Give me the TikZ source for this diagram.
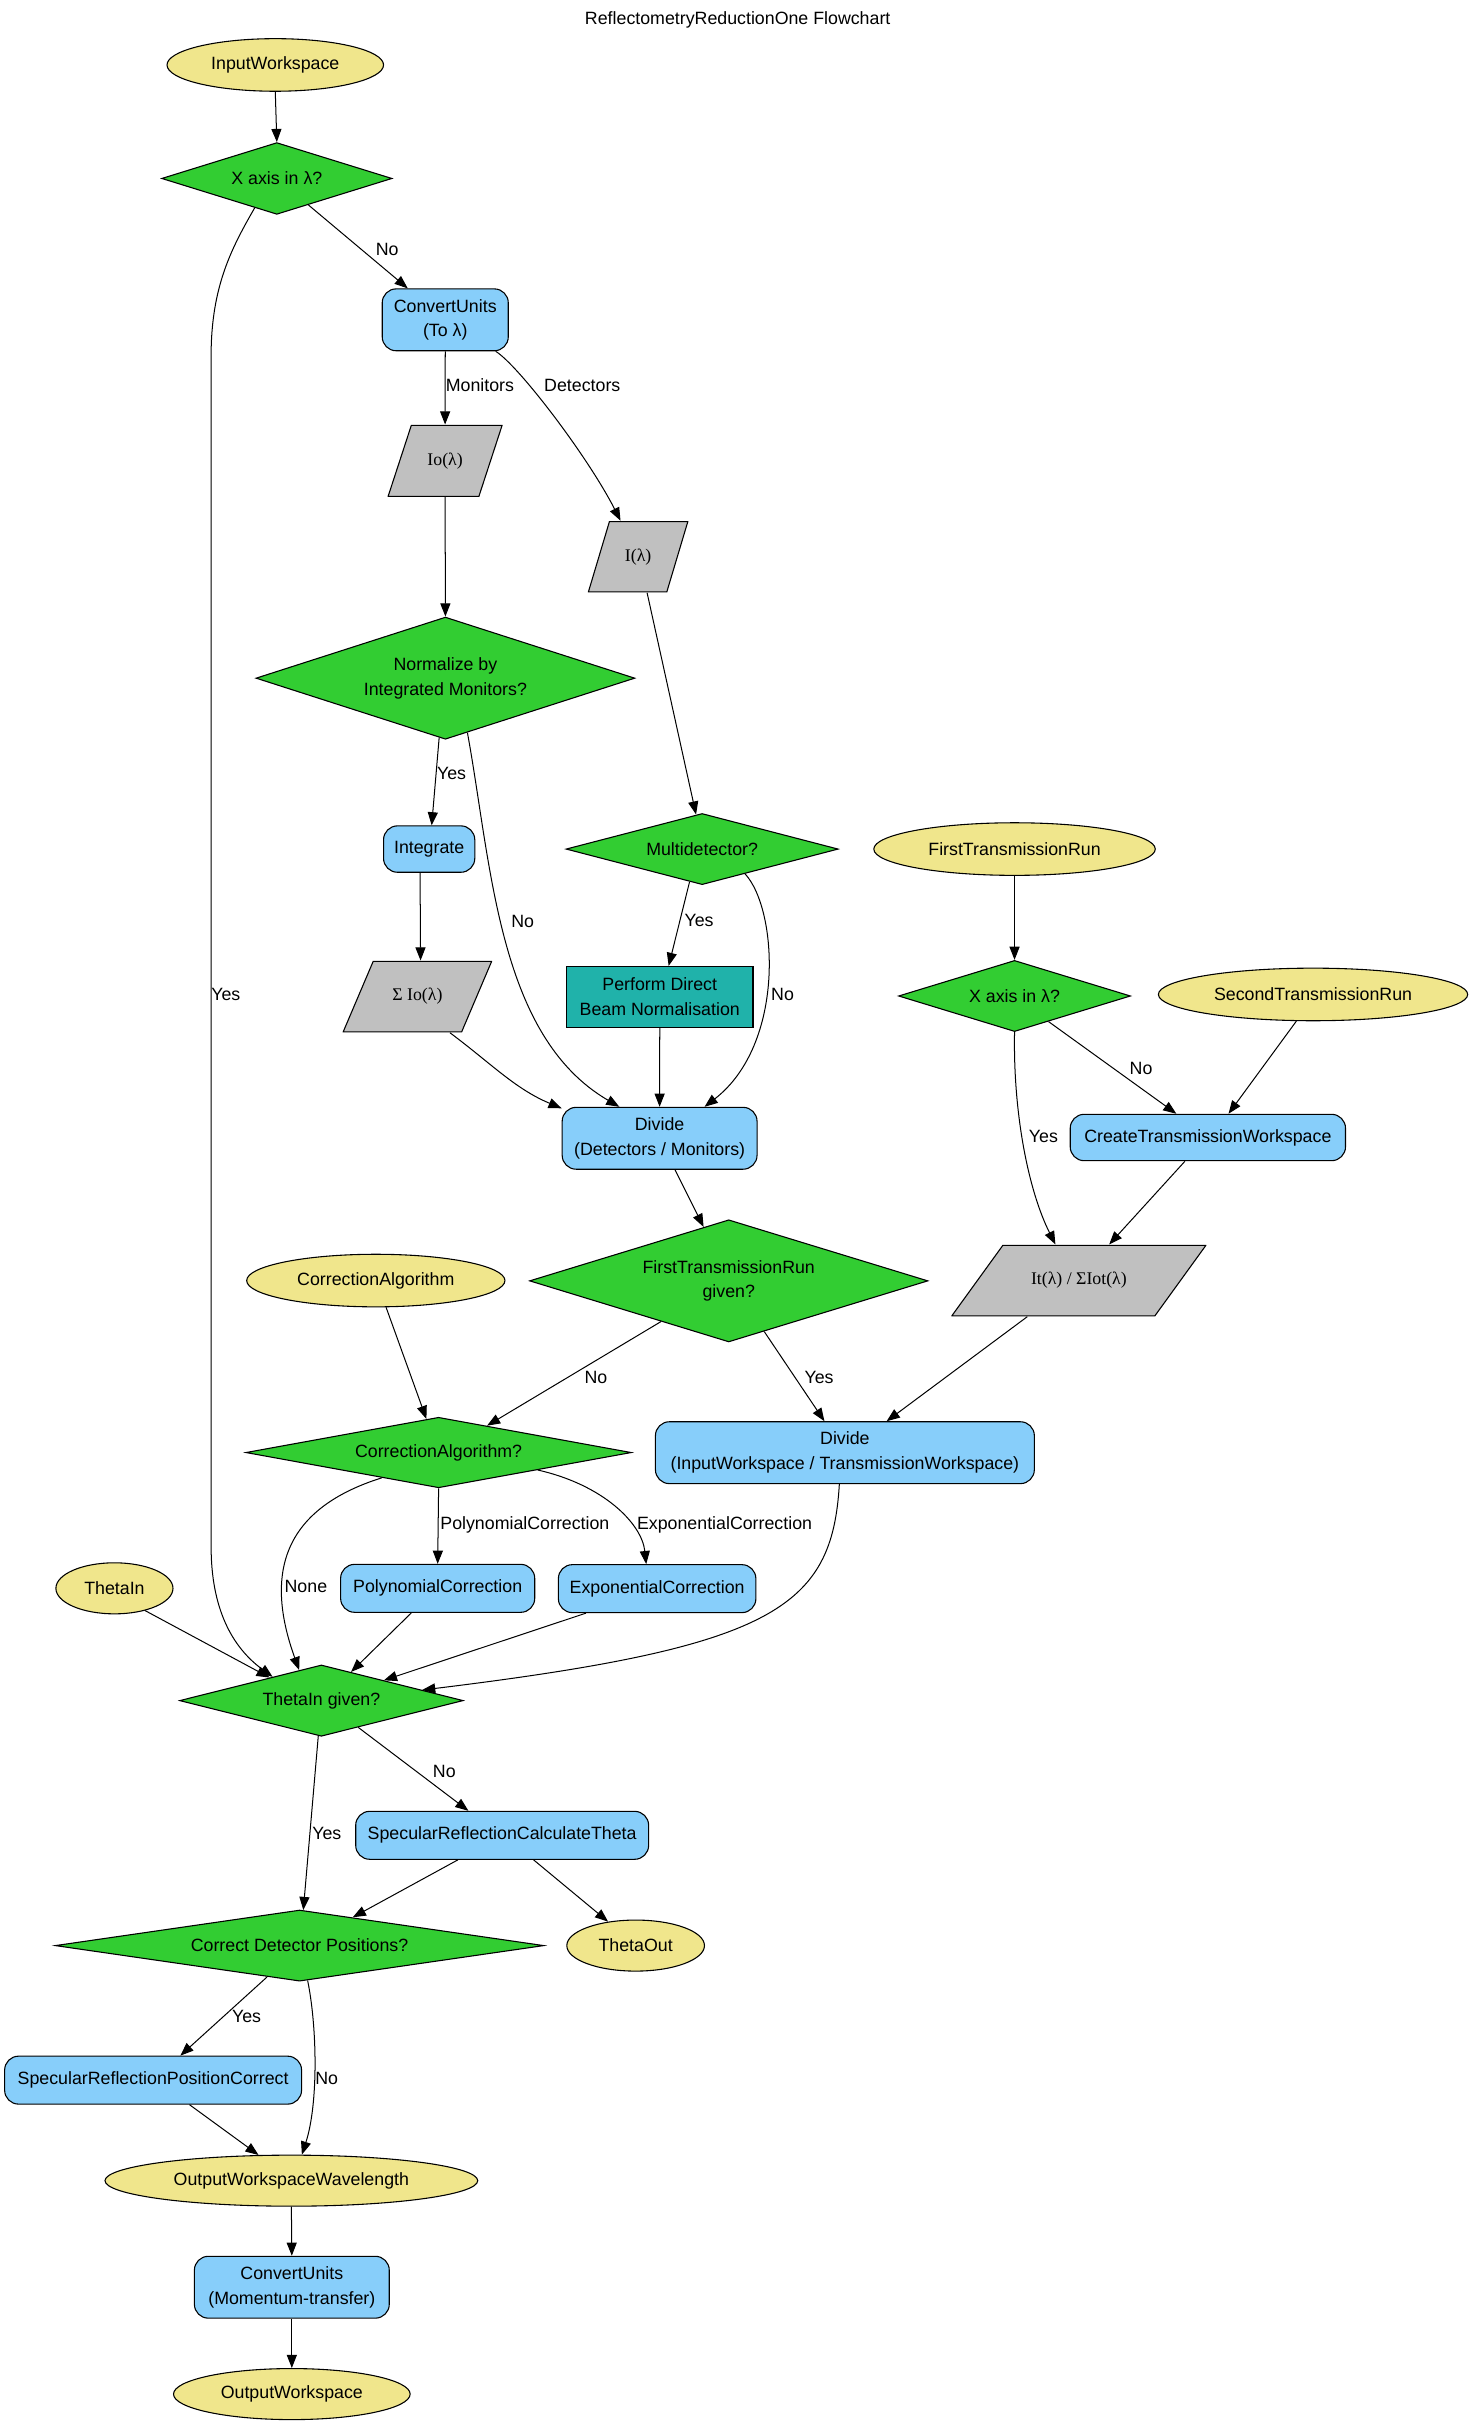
\documentclass[tikz,border=0pt]{standalone}
\usepackage{fontspec}
\setmainfont{Liberation Sans}
\newfontfamily\serifft{Liberation Serif}
\usetikzlibrary{shapes.geometric,arrows.meta}
\definecolor{khaki}{HTML}{F0E68C}
\definecolor{skyb}{HTML}{87CEFA}
\definecolor{limeg}{HTML}{32CD32}
\definecolor{grayc}{HTML}{C0C0C0}
\definecolor{tealb}{HTML}{20B2AA}
\tikzset{
  base/.style={font=\fontsize{11.5}{16}\selectfont, inner sep=0pt, align=center},
  ell/.style={base, ellipse, draw, fill=khaki, line width=0.7pt},
  proc/.style={base, rectangle, rounded corners=9pt, draw, fill=skyb, line width=0.7pt},
  plain/.style={base, rectangle, draw, fill=tealb, line width=0.7pt},
  dec/.style={base, diamond, draw, fill=limeg, line width=0.7pt},
  para/.style={base, rectangle, font=\fontsize{11.5}{16}\selectfont\serifft,
    path picture={\filldraw[fill=grayc, line width=0.7pt]
      ([xshift=#1pt+0.35pt, yshift=-0.35pt]path picture bounding box.north west) --
      ([xshift=-0.35pt, yshift=-0.35pt]path picture bounding box.north east) --
      ([xshift=-#1pt-0.35pt, yshift=0.35pt]path picture bounding box.south east) --
      ([xshift=0.35pt, yshift=0.35pt]path picture bounding box.south west) -- cycle;}},
  lab/.style={base},
  conn/.style={-{Triangle[length=8.5pt,width=6.5pt]}, line width=0.65pt}
}
\begin{document}
\begin{tikzpicture}[x=1pt, y=-1pt]
\useasboundingbox (0,0) rectangle (954,1568);

% title
\node[base] (title) at (477,13) {ReflectometryReductionOne Flowchart};

% nodes
\node[ell, minimum width=140pt, minimum height=34pt] (iw) at (178,42) {InputWorkspace};
\node[dec, minimum width=149pt, minimum height=46.4pt, shape aspect=3.21] (xa1) at (179,115.4) {X axis in λ?};
\node[proc, minimum width=81.5pt, minimum height=40pt] (cu1) at (287.9,206.8) {ConvertUnits\\(To λ)};
\node[para=15, minimum width=74.4pt, minimum height=46.6pt] (io) at (287.8,298) {Io(λ)};
\node[para=13.6, minimum width=65pt, minimum height=46.2pt] (il) at (412.6,360) {I(λ)};
\node[dec, minimum width=245pt, minimum height=79pt, shape aspect=3.1] (norm) at (288,438.5) {Normalize by\\Integrated Monitors?};
\node[proc, minimum width=59pt, minimum height=30pt] (integ) at (277.5,549) {Integrate};
\node[dec, minimum width=176pt, minimum height=46pt, shape aspect=3.83] (md) at (454,549) {Multidetector?};
\node[para=19.4, minimum width=96.7pt, minimum height=46.3pt] (sio) at (269.9,644.4) {Σ Io(λ)};
\node[plain, minimum width=120.6pt, minimum height=39.4pt] (pdb) at (426.6,644.6) {Perform Direct\\Beam Normalisation};
\node[proc, minimum width=126pt, minimum height=40pt] (div1) at (426.5,736) {Divide\\(Detectors / Monitors)};
\node[ell, minimum width=182pt, minimum height=34pt] (ftr) at (656,549) {FirstTransmissionRun};
\node[dec, minimum width=150pt, minimum height=46pt, shape aspect=3.26] (xa2) at (656,644) {X axis in λ?};
\node[ell, minimum width=200pt, minimum height=34pt] (stw) at (849,643) {SecondTransmissionRun};
\node[proc, minimum width=178pt, minimum height=30pt] (ctw) at (781,735.5) {CreateTransmissionWorkspace};
\node[para=33, minimum width=165pt, minimum height=46.3pt] (it) at (697.6,828) {It(λ) / ΣIot(λ)};
\node[dec, minimum width=257.6pt, minimum height=79pt, shape aspect=3.26] (ftrg) at (471.2,828.2) {FirstTransmissionRun\\given?};
\node[ell, minimum width=167pt, minimum height=34pt] (ca) at (243,828) {CorrectionAlgorithm};
\node[dec, minimum width=249.3pt, minimum height=45.6pt, shape aspect=5.47] (caq) at (283.6,939.2) {CorrectionAlgorithm?};
\node[proc, minimum width=245pt, minimum height=40pt] (div2) at (546.3,939.3) {Divide\\(InputWorkspace / TransmissionWorkspace)};
\node[ell, minimum width=75.7pt, minimum height=33pt] (thin) at (74,1027) {ThetaIn};
\node[proc, minimum width=125.5pt, minimum height=31pt] (pc) at (283,1027) {PolynomialCorrection};
\node[proc, minimum width=127.7pt, minimum height=31pt] (ec) at (424.9,1027.2) {ExponentialCorrection};
\node[dec, minimum width=183.4pt, minimum height=46.1pt, shape aspect=3.98] (tig) at (207.8,1099.6) {ThetaIn given?};
\node[proc, minimum width=189.4pt, minimum height=31pt] (srct) at (324.7,1186.7) {SpecularReflectionCalculateTheta};
\node[dec, minimum width=316pt, minimum height=46pt, shape aspect=6.87] (cdp) at (193.7,1258) {Correct Detector Positions?};
\node[ell, minimum width=89pt, minimum height=33pt] (tout) at (411,1258) {ThetaOut};
\node[proc, minimum width=192pt, minimum height=31pt] (srpc) at (99,1345) {SpecularReflectionPositionCorrect};
\node[ell, minimum width=241pt, minimum height=33pt] (oww) at (188.4,1410) {OutputWorkspaceWavelength};
\node[proc, minimum width=126pt, minimum height=40pt] (cu2) at (188.7,1478.9) {ConvertUnits\\(Momentum-transfer)};
\node[ell, minimum width=153pt, minimum height=33pt] (ow) at (188.7,1548) {OutputWorkspace};

% connectors
\draw[conn] (iw.south) -- (xa1.north);
\draw[conn] (xa1.-40) -- (cu1.140);
\draw[conn] (xa1.-127.6) .. controls (150,160) and (136.5,185) .. (136.5,230) -- (136.5,1000) .. controls (136.5,1040) and (150,1065) .. (tig.154.6);
\draw[conn] (cu1.south) -- (io.north);
\draw[conn] (cu1.-32) .. controls (335,236) and (380,295) .. (il.116.8);
\draw[conn] (io.south) -- (norm.north);
\draw[conn] (il.-76.8) -- (md.100);
\draw[conn] (norm.-96) -- (integ.84);
\draw[conn] (norm.-68.5) .. controls (318,560) and (322,670) .. (div1.142);
\draw[conn] (integ.-111) -- (sio.85);
\draw[conn] (sio.-48.3) .. controls (318,688) and (333,704) .. (div1.163.1);
\draw[conn] (md.-111.8) -- (pdb.74.7);
\draw[conn] (md.-30) .. controls (503,588) and (508,675) .. (div1.35.6);
\draw[conn] (pdb.south) -- (div1.north);
\draw[conn] (div1.-64.2) -- (ftrg.115.2);
\draw[conn] (ftr.south) -- (xa2.north);
\draw[conn] (xa2.-37.7) -- (ctw.143);
\draw[conn] (xa2.south) .. controls (655,720) and (665,770) .. (it.123);
\draw[conn] (stw.-122.5) -- (ctw.49.8);
\draw[conn] (ctw.-134.4) -- (it.50.7);
\draw[conn] (ftrg.-149) -- (caq.29.5);
\draw[conn] (ftrg.-55.7) -- (div2.123.8);
\draw[conn] (it.-145.3) -- (div2.37);
\draw[conn] (ca.-69) -- (caq.110.2);
\draw[conn] (caq.-156.6) .. controls (185,975) and (170,1015) .. (tig.126.8);
\draw[conn] (caq.south) -- (pc.north);
\draw[conn] (caq.-10.9) .. controls (390,960) and (415,985) .. (ec.114);
\draw[conn] (thin.-36.1) -- (tig.156.9);
\draw[conn] (pc.-137.5) -- (tig.44.7);
\draw[conn] (ec.-161.6) -- (tig.18.3);
\draw[conn] (div2.-100.2) .. controls (538,1040) and (500,1065) .. (tig.6.5);
\draw[conn] (tig.-36.8) -- (srct.144.5);
\draw[conn] (tig.-95.2) -- (cdp.84.6);
\draw[conn] (srct.-151.4) -- (cdp.28.1);
\draw[conn] (srct.-38.5) -- (tout.139.5);
\draw[conn] (cdp.-136.6) -- (srpc.42);
\draw[conn] (cdp.-77.7) .. controls (205,1310) and (206,1360) .. (oww.68.8);
\draw[conn] (srpc.-34) -- (oww.142.9);
\draw[conn] (oww.south) -- (cu2.north);
\draw[conn] (cu2.south) -- (ow.north);

% edge labels
\node[lab] (l1) at (250.4,161.6) {No};
\node[lab] (l2) at (146,643) {Yes};
\node[lab] (l3) at (310.3,249.3) {Monitors};
\node[lab] (l4) at (376.5,249.3) {Detectors};
\node[lab] (l5) at (292,500) {Yes};
\node[lab] (l6) at (338,596) {No};
\node[lab] (l7) at (452,595) {Yes};
\node[lab] (l8) at (506,643) {No};
\node[lab] (l9) at (737.8,690.6) {No};
\node[lab] (l10) at (674.7,734.8) {Yes};
\node[lab] (l11) at (385.3,890.5) {No};
\node[lab] (l12) at (529.6,890.5) {Yes};
\node[lab] (l13) at (197.8,1026) {None};
\node[lab] (l14) at (339.4,985.8) {PolynomialCorrection};
\node[lab] (l15) at (468.5,985.8) {ExponentialCorrection};
\node[lab] (l16) at (287.3,1145.7) {No};
\node[lab] (l17) at (211.3,1185.6) {Yes};
\node[lab] (l18) at (159.4,1304) {Yes};
\node[lab] (l19) at (211.2,1343.9) {No};
\end{tikzpicture}
\end{document}
